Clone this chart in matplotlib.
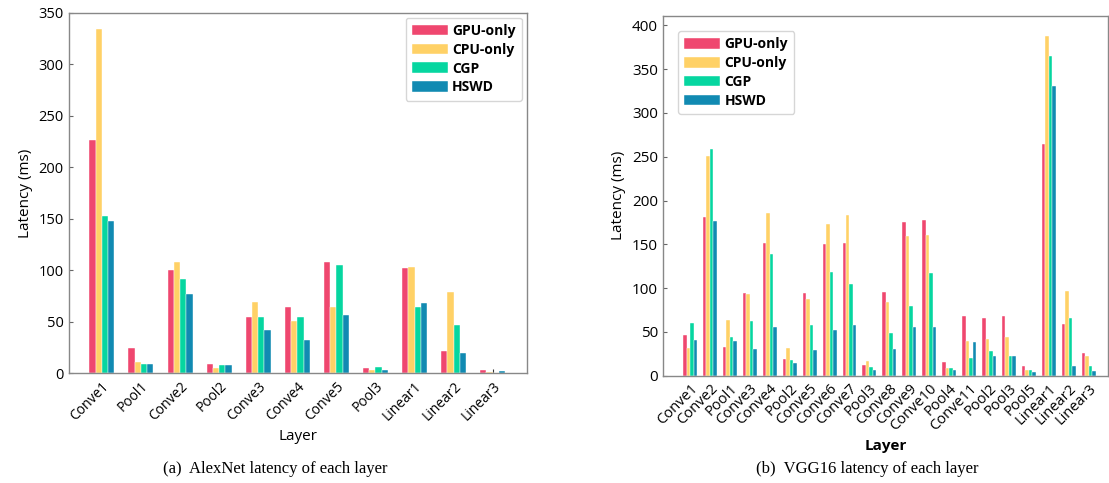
import numpy as np
import matplotlib
matplotlib.use('Agg')
from matplotlib import pyplot as plt

plt.rcParams['font.family'] = ['Open Sans', 'DejaVu Sans']

# 图例顺序
series = ['GPU-only', 'CPU-only', 'CGP', 'HSWD']
colors = ['#EF476F', '#FFD166', '#06D6A0', '#118AB2']

# (a) AlexNet
alex_layers = ['Conve1', 'Pool1', 'Conve2', 'Pool2', 'Conve3', 'Conve4', 'Conve5',
               'Pool3', 'Linear1', 'Linear2', 'Linear3']
alex_gpu = [226, 24.7, 100, 8.8, 54.8, 63.9, 108, 4.9, 102, 21.7, 2.9]
alex_cpu = [334, 11, 108, 5.2, 69, 50.6, 64.6, 3.2, 103.5, 78.5, 1.6]
alex_cgp = [152.8, 8.8, 91.8, 8, 54.8, 54.8, 105.4, 6.2, 64.6, 46.7, 0.6]
alex_hswd = [148.2, 9.4, 76.6, 8, 42, 32.8, 56.4, 2.9, 68.4, 20.1, 2.3]

# (b) VGG16
vgg_layers = ['Conve1', 'Conve2', 'Pool1', 'Conve3', 'Conve4', 'Pool2', 'Conve5', 'Conve6',
              'Conve7', 'Pool3', 'Conve8', 'Conve9', 'Conve10', 'Pool4', 'Conve11', 'Pool2',
              'Pool3', 'Pool5', 'Linear1', 'Linear2', 'Linear3']
vgg_gpu = [47, 181, 33, 94, 151, 19, 94, 150, 151, 12, 95, 175, 178, 16, 68, 66, 68, 11, 265, 59, 26]
vgg_cpu = [32, 251, 63, 93, 186, 32, 88, 173, 183, 17, 84, 160, 161, 9, 40, 42, 44, 6, 388, 97, 23]
vgg_cgp = [60, 259, 44, 62, 139, 18, 58, 118, 105, 10, 49, 79, 117, 9, 20, 28, 22, 7, 365, 66, 11]
vgg_hswd = [41, 177, 40, 31, 56, 14, 29, 52, 58, 7, 31, 56, 56, 6, 39, 23, 22, 4, 331, 11, 5]


def draw(ax, layers, data, width, ylim, yticks, xlim, tick_fs, label_bold):
    x = np.arange(len(layers))
    offsets = (np.arange(len(series)) - 1.5) * width
    for vals, name, c, off in zip(data, series, colors, offsets):
        ax.bar(x + off, vals, width, color=c, label=name, edgecolor='white', linewidth=0.3, zorder=2)
    ax.set_xlim(*xlim)
    ax.set_ylim(*ylim)
    ax.set_yticks(yticks)
    ax.set_xticks(x)
    ax.set_xticklabels(layers, rotation=45, ha='right', rotation_mode='anchor', fontsize=tick_fs)
    ax.tick_params(axis='y', labelsize=tick_fs + 0.5, direction='in', length=3, color='#666666')
    ax.tick_params(axis='x', direction='in', length=3, color='#333333', pad=4)
    for s in ax.spines.values():
        s.set_color('#888888')
        s.set_linewidth(1.0)
    ax.set_ylabel('Latency (ms)', fontsize=11)
    ax.set_xlabel('Layer', fontsize=11, fontweight='bold' if label_bold else 'normal')


def add_legend(ax, loc, pad):
    ax.legend(loc=loc, prop={'weight': 'bold', 'size': 10}, handlelength=2.6,
              handleheight=0.8, labelspacing=0.35, handletextpad=0.3, borderaxespad=pad,
              borderpad=0.45, edgecolor='#cccccc', fancybox=True)


fig = plt.figure(figsize=(11.09, 4.83), dpi=100)

ax1 = fig.add_axes([0.0619, 0.2271, 0.413, 0.7466])
draw(ax1, alex_layers, [alex_gpu, alex_cpu, alex_cgp, alex_hswd], 0.16, (0, 350),
     range(0, 351, 50), (-0.85, 10.87), 10, False)
add_legend(ax1, 'upper right', 0.35)

ax2 = fig.add_axes([0.5976, 0.2222, 0.4015, 0.7453])
draw(ax2, vgg_layers, [vgg_gpu, vgg_cpu, vgg_cgp, vgg_hswd], 0.175, (0, 411),
     range(0, 401, 50), (-1.37, 20.97), 10.5, True)
add_legend(ax2, 'upper left', 1.1)

fig.text(0.2485, 0.029, '(a)  AlexNet latency of each layer', ha='center', va='center',
         fontsize=12, family=['Liberation Serif', 'DejaVu Serif'])
fig.text(0.7824, 0.029, '(b)  VGG16 latency of each layer', ha='center', va='center',
         fontsize=12, family=['Liberation Serif', 'DejaVu Serif'])

fig.savefig('out.png', dpi=100)
